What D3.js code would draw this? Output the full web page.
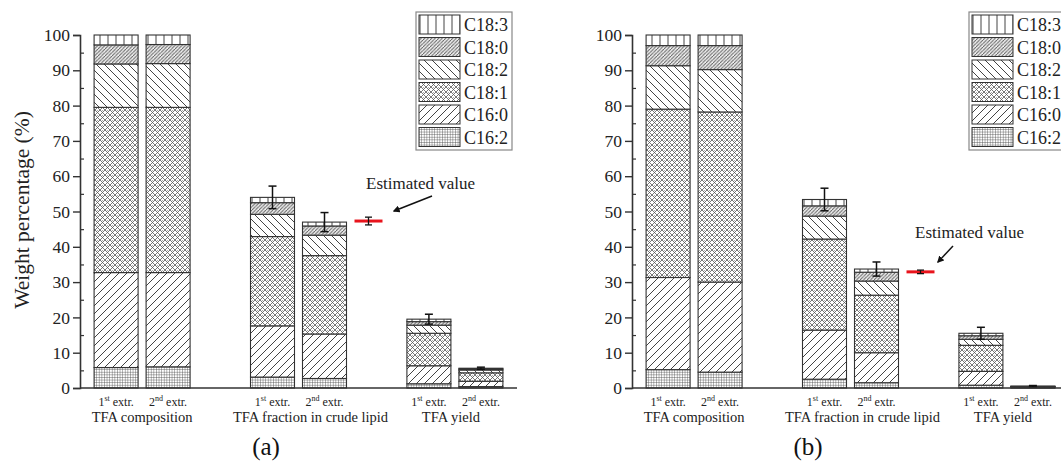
<!DOCTYPE html>
<html>
<head>
<meta charset="utf-8">
<script src="https://cdn.jsdelivr.net/npm/d3@7"></script>
<style>
  body { margin: 0; background: #fff; }
  svg { font-family: "Liberation Serif", "DejaVu Serif", serif; }
</style>
</head>
<body>
<div class="canvas"></div>
<script>
// data (stack order: bottom -> top)
const fattyAcids = ["C16:2", "C16:0", "C18:1", "C18:2", "C18:0", "C18:3"];
const groups = ["TFA composition", "TFA fraction in crude lipid", "TFA yield"];
const extractions = ["1st", "2nd"];

// panel (a) – one value per bar: [comp 1st, comp 2nd, frac 1st, frac 2nd, yield 1st, yield 2nd]
const aC162 = [5.8, 6.0, 3.1, 2.7, 1.2, 0.4];
const aC160 = [26.9, 26.7, 14.5, 12.6, 5.1, 1.5];
const aC181 = [46.8, 46.8, 25.3, 22.2, 9.2, 2.4];
const aC182 = [12.3, 12.4, 6.3, 5.8, 2.3, 0.8];
const aC180 = [5.4, 5.4, 3.3, 2.6, 1.0, 0.3];
const aC183 = [2.8, 2.7, 1.5, 1.1, 0.7, 0.2];
const aErr = [null, null, 3.2, 2.7, 1.4, 0.3];
const aEstimate = 47.3, aEstimateErr = 1.1;

// panel (b)
const bC162 = [5.2, 4.5, 2.5, 1.5, 0.8, 0.05];
const bC160 = [26.1, 25.5, 13.9, 8.5, 3.9, 0.15];
const bC181 = [47.7, 48.2, 25.8, 16.3, 7.4, 0.2];
const bC182 = [12.3, 12.0, 6.5, 4.0, 1.7, 0.05];
const bC180 = [5.7, 6.8, 2.9, 2.5, 1.0, 0.03];
const bC183 = [3.0, 3.0, 1.8, 0.9, 0.7, 0.02];
const bErr = [null, null, 3.2, 2.0, 1.7, 0.2];
const bEstimate = 32.9, bEstimateErr = 0.5;

const yTicks = [0, 10, 20, 30, 40, 50, 60, 70, 80, 90, 100];

const w = 1061, h = 467;
const svg = d3.select(".canvas").append("svg").attr("width", w).attr("height", h);
const defs = svg.append("defs");

// hatch patterns
function pattern(id, size, draw, bg) {
  const p = defs.append("pattern").attr("id", id).attr("patternUnits", "userSpaceOnUse")
    .attr("width", size).attr("height", size);
  p.append("rect").attr("width", size).attr("height", size).attr("fill", bg || "#fff");
  draw(p, size);
}
const ink = "#444";
pattern("p-C18:3", 8, (p, s) => p.append("line").attr("x1", 4).attr("x2", 4).attr("y1", 0).attr("y2", s).attr("stroke", ink).attr("stroke-width", 1));
pattern("p-C18:0", 3.5, (p, s) => p.append("path").attr("d", `M0,${s} L${s},0 M${-s},${s} L0,0 M${s},${2 * s} L${2 * s},${s}`).attr("stroke", "#555").attr("stroke-width", 0.9), "#eee");
pattern("p-C18:2", 8, (p, s) => p.append("path").attr("d", `M0,0 L${s},${s} M${-s},0 L0,${s} M${s},0 L${2 * s},${s}`).attr("stroke", ink).attr("stroke-width", 1));
pattern("p-C18:1", 5, (p, s) => {
  p.append("path").attr("d", `M0,0 L${s},${s} M0,${s} L${s},0`).attr("stroke", "#555").attr("stroke-width", 0.8);
  p.append("circle").attr("cx", s / 2).attr("cy", 0).attr("r", 0.6).attr("fill", "#555");
});
pattern("p-C16:0", 8, (p, s) => p.append("path").attr("d", `M0,${s} L${s},0 M${-s},${s} L0,0 M${s},${2 * s} L${2 * s},${s}`).attr("stroke", ink).attr("stroke-width", 1));
pattern("p-C16:2", 2.6, (p, s) => p.append("path").attr("d", `M0,0 L${s},0 M0,0 L0,${s}`).attr("stroke", "#444").attr("stroke-width", 0.8));

// arrow marker
defs.append("marker").attr("id", "arrow").attr("viewBox", "0 0 10 10").attr("refX", 8).attr("refY", 5)
  .attr("markerWidth", 7).attr("markerHeight", 7).attr("markerUnits", "userSpaceOnUse").attr("orient", "auto")
  .append("path").attr("d", "M0,0 L10,5 L0,10 z").attr("fill", "#111");

function drawPanel(cfg) {
  const g = svg.append("g").attr("transform", `translate(${cfg.dx}, 0)`);
  const y = d3.scaleLinear().domain([0, 100]).range([388, 35]);
  const xGroup = d3.scalePoint().domain(groups).range([80, 517]).padding(0.397);
  const xSub = d3.scaleBand().domain(extractions).range([-48, 48]).paddingInner(8 / 52);

  const rows = [];
  groups.forEach((grp, gi) => extractions.forEach((ex, ei) => {
    const i = gi * 2 + ei;
    const r = { group: grp, ext: ex, err: cfg.err[i] };
    fattyAcids.forEach((fa) => (r[fa] = cfg.values[fa][i]));
    r.total = d3.sum(fattyAcids, (fa) => r[fa]);
    rows.push(r);
  }));
  const series = d3.stack().keys(fattyAcids)(rows);
  const barX = (d) => xGroup(d.group) + xSub(d.ext);

  // bars
  g.selectAll("g.layer").data(series).enter().append("g").attr("class", "layer")
    .attr("fill", (s) => `url(#p-${s.key})`)
    .selectAll("rect").data((s) => s).enter().append("rect")
    .attr("x", (d) => barX(d.data))
    .attr("y", (d) => y(d[1]))
    .attr("width", xSub.bandwidth())
    .attr("height", (d) => y(d[0]) - y(d[1]))
    .attr("stroke", "#333").attr("stroke-width", 1.1);

  // error bars
  const eb = g.selectAll("g.err").data(rows.filter((r) => r.err != null)).enter().append("g").attr("class", "err");
  const cx = (d) => barX(d) + xSub.bandwidth() / 2;
  eb.append("line").attr("x1", cx).attr("x2", cx).attr("y1", (d) => y(d.total + d.err)).attr("y2", (d) => y(d.total - d.err)).attr("stroke", "#111").attr("stroke-width", 1.5);
  [1, -1].forEach((s) => eb.append("line").attr("x1", (d) => cx(d) - 4).attr("x2", (d) => cx(d) + 4)
    .attr("y1", (d) => y(d.total + s * d.err)).attr("y2", (d) => y(d.total + s * d.err)).attr("stroke", "#111").attr("stroke-width", 1.5));

  // estimated value
  const ex = xGroup(groups[1]) + 70;
  g.append("line").attr("x1", ex - 14).attr("x2", ex + 14).attr("y1", y(cfg.est)).attr("y2", y(cfg.est)).attr("stroke", "#e8141c").attr("stroke-width", 3);
  g.append("line").attr("x1", ex).attr("x2", ex).attr("y1", y(cfg.est + cfg.estErr)).attr("y2", y(cfg.est - cfg.estErr)).attr("stroke", "#111").attr("stroke-width", 1.3);
  [1, -1].forEach((s) => g.append("line").attr("x1", ex - 3.5).attr("x2", ex + 3.5).attr("y1", y(cfg.est + s * cfg.estErr)).attr("y2", y(cfg.est + s * cfg.estErr)).attr("stroke", "#111").attr("stroke-width", 1.3));
  g.append("text").attr("x", cfg.labelX).attr("y", cfg.labelY).attr("font-size", 17).attr("fill", "#222").text("Estimated value");
  g.append("line").attr("x1", cfg.arrow[0]).attr("y1", cfg.arrow[1]).attr("x2", cfg.arrow[2]).attr("y2", cfg.arrow[3])
    .attr("stroke", "#111").attr("stroke-width", 1.5).attr("marker-end", "url(#arrow)");

  // axes
  const yAxis = g.append("g").attr("transform", "translate(80,0)")
    .call(d3.axisLeft(y).tickValues(yTicks).tickSize(7).tickPadding(3));
  yAxis.select(".domain").attr("stroke", "#333").attr("stroke-width", 1.6);
  yAxis.selectAll(".tick line").attr("stroke", "#333").attr("stroke-width", 1.4);
  yAxis.selectAll(".tick text").attr("font-size", 17.5).attr("font-family", "Liberation Serif").attr("fill", "#222");
  g.append("g").attr("transform", "translate(80,0)")
    .call(d3.axisRight(y).tickValues(d3.range(5, 100, 10)).tickSize(4).tickFormat(""))
    .call((a) => a.select(".domain").remove())
    .selectAll(".tick line").attr("stroke", "#333").attr("stroke-width", 1.2);
  g.append("line").attr("x1", 80).attr("x2", 517).attr("y1", y(0)).attr("y2", y(0)).attr("stroke", "#333").attr("stroke-width", 1.6);

  // x labels
  rows.forEach((r) => {
    const t = g.append("text").attr("x", barX(r) + xSub.bandwidth() / 2).attr("y", 406)
      .attr("text-anchor", "middle").attr("font-size", 12).attr("fill", "#222");
    t.append("tspan").text(r.ext[0]);
    t.append("tspan").attr("font-size", 8).attr("dy", -5).text(r.ext.slice(1));
    t.append("tspan").attr("dy", 5).text(" extr.");
  });
  groups.forEach((grp, i) => {
    g.append("text").attr("x", xGroup(grp) + (i === 1 ? 12 : i === 2 ? -4 : 0)).attr("y", 422)
      .attr("text-anchor", "middle").attr("font-size", 14.5).attr("fill", "#222").text(grp);
  });
  g.append("text").attr("x", cfg.tagX).attr("y", 455).attr("text-anchor", "middle").attr("font-size", 25).attr("fill", "#111").text(cfg.tag);

  // legend
  const lg = g.append("g").attr("transform", `translate(${cfg.legendX}, 12)`);
  lg.append("rect").attr("width", 96).attr("height", 138).attr("fill", "#fff").attr("stroke", "#888").attr("stroke-width", 1.2);
  fattyAcids.slice().reverse().forEach((fa, i) => {
    lg.append("rect").attr("x", 3).attr("y", 3 + i * 22.5).attr("width", 41).attr("height", 19)
      .attr("fill", `url(#p-${fa})`).attr("stroke", "#333").attr("stroke-width", 1);
    lg.append("text").attr("x", 48).attr("y", 19 + i * 22.5).attr("font-size", 18).attr("fill", "#222").text(fa);
  });
}

const valuesA = { "C16:2": aC162, "C16:0": aC160, "C18:1": aC181, "C18:2": aC182, "C18:0": aC180, "C18:3": aC183 };
const valuesB = { "C16:2": bC162, "C16:0": bC160, "C18:1": bC181, "C18:2": bC182, "C18:0": bC180, "C18:3": bC183 };

drawPanel({ dx: 0, values: valuesA, err: aErr, est: aEstimate, estErr: aEstimateErr, tag: "(a)", tagX: 266, legendX: 416,
  labelX: 366, labelY: 189, arrow: [432, 196, 394, 211] });
drawPanel({ dx: 552, values: valuesB, err: bErr, est: bEstimate, estErr: bEstimateErr, tag: "(b)", tagX: 256, legendX: 417,
  labelX: 363, labelY: 238, arrow: [401, 246, 386, 262] });

// y axis title
svg.append("text").attr("transform", "translate(29,210) rotate(-90)").attr("text-anchor", "middle")
  .attr("font-size", 21.5).attr("fill", "#222").text("Weight percentage (%)");
</script>
</body>
</html>
